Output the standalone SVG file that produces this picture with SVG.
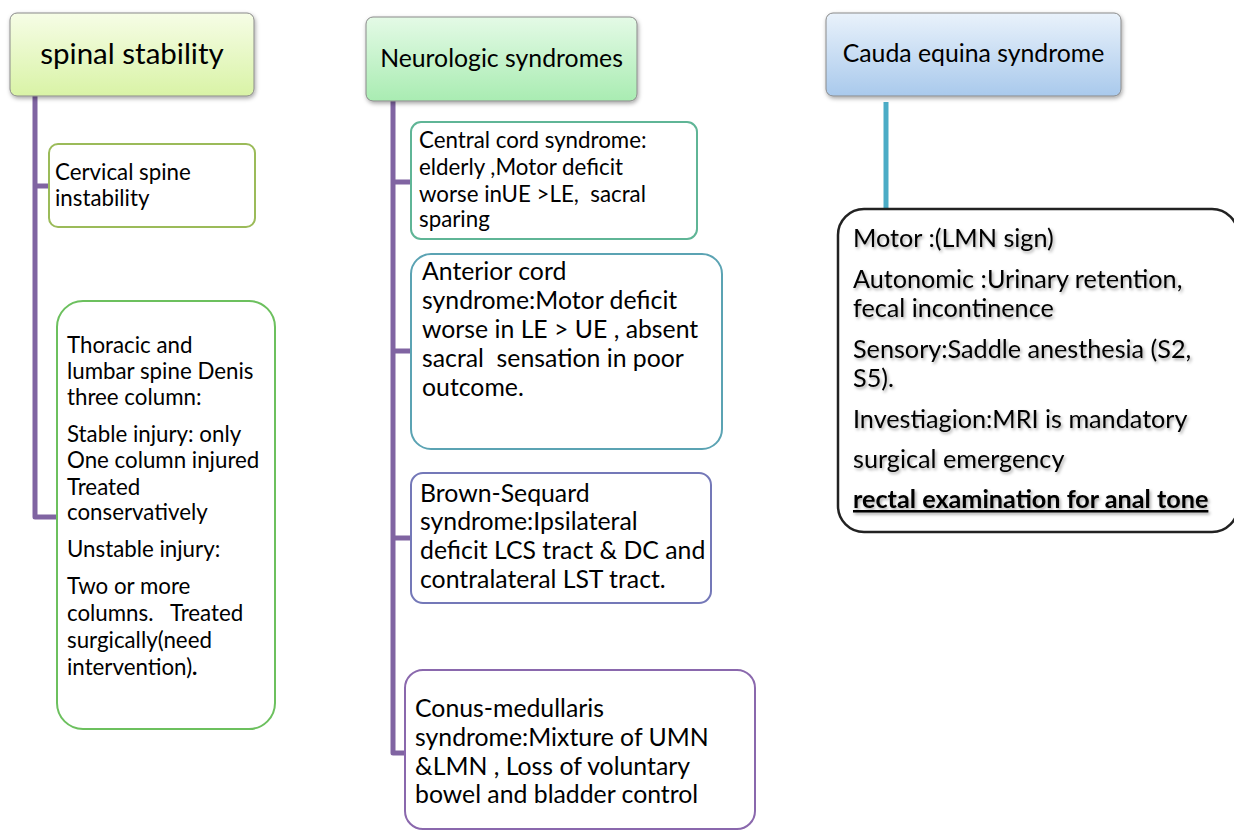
<svg xmlns="http://www.w3.org/2000/svg" width="1234" height="832" viewBox="0 0 1234 832">
<style>
text{font-family:Lato,"Open Sans","Liberation Sans",sans-serif;fill:#000;white-space:pre}
.h{text-anchor:middle}
.s{font-size:22.3px}
.m{font-size:24.8px}
.c{font-size:25.2px}
.box{fill:#fff;stroke-width:2}
.conn{fill:none;stroke:#8064a2;stroke-width:5;stroke-linejoin:round}
</style>
<defs>
<linearGradient id="gY" x1="0" y1="0" x2="0" y2="1"><stop offset="0" stop-color="#f6fde6"/><stop offset="1" stop-color="#d9f3a6"/></linearGradient>
<linearGradient id="gG" x1="0" y1="0" x2="0" y2="1"><stop offset="0" stop-color="#e4fae6"/><stop offset="1" stop-color="#a9ecb2"/></linearGradient>
<linearGradient id="gB" x1="0" y1="0" x2="0" y2="1"><stop offset="0" stop-color="#e9f2fb"/><stop offset="1" stop-color="#a9c9ec"/></linearGradient>
<filter id="sh" x="-10%" y="-10%" width="125%" height="130%"><feDropShadow dx="1" dy="2" stdDeviation="2" flood-color="#000" flood-opacity="0.35"/></filter>
<filter id="tsh" x="-5%" y="-20%" width="115%" height="160%"><feDropShadow dx="1.5" dy="2" stdDeviation="1.5" flood-color="#000" flood-opacity="0.35"/></filter>
</defs>
<g id="connectors">
<path class="conn" d="M35 96V517H57M35 186H49"/>
<path class="conn" d="M393 101V753H405M393 182H411M393 351H411M393 538H411"/>
<path d="M886 102V208" stroke="#4bacc6" stroke-width="5" fill="none"/>
</g>
<g id="spinal-stability">
<rect x="10" y="13" width="244" height="83" rx="7" fill="url(#gY)" stroke="#8a8a8a" stroke-width="1" filter="url(#sh)"/>
<text class="h" x="132" y="64" font-size="29.5">spinal stability</text>
</g>
<g id="cervical">
<rect class="box" x="49" y="144" width="206" height="83" rx="9" stroke="#9bbb59"/>
<text class="s" x="55" y="180">Cervical spine</text>
<text class="s" x="55" y="206">instability</text>
</g>
<g id="thoracic">
<rect class="box" x="57" y="301" width="218" height="428" rx="26" stroke="#6cc05e"/>
<text class="s" x="67" y="353">Thoracic and</text>
<text class="s" x="67" y="379">lumbar spine Denis</text>
<text class="s" x="67" y="405">three column:</text>
<text class="s" x="67" y="442">Stable injury: only</text>
<text class="s" x="67" y="468">One column injured</text>
<text class="s" x="67" y="495">Treated</text>
<text class="s" x="67" y="520">conservatively</text>
<text class="s" x="67" y="557">Unstable injury:</text>
<text class="s" x="67" y="594">Two or more</text>
<text class="s" x="67" y="621">columns.   Treated</text>
<text class="s" x="67" y="648">surgically(need</text>
<text class="s" x="67" y="675">intervention)<tspan font-weight="bold">.</tspan></text>
</g>
<g id="neurologic">
<rect x="366" y="17" width="271" height="84" rx="7" fill="url(#gG)" stroke="#8a8a8a" stroke-width="1" filter="url(#sh)"/>
<text class="h" x="501.5" y="67" font-size="24.8">Neurologic syndromes</text>
</g>
<g id="central-cord">
<rect class="box" x="411" y="122" width="286" height="117" rx="10" stroke="#5fb596"/>
<text class="s" x="419" y="148">Central cord syndrome:</text>
<text class="s" x="419" y="175">elderly ,Motor deficit</text>
<text class="s" x="419" y="202">worse inUE &gt;LE,  sacral</text>
<text class="s" x="419" y="227">sparing</text>
</g>
<g id="anterior-cord">
<rect class="box" x="411" y="254" width="311" height="195" rx="20" stroke="#5ba3b3"/>
<text class="m" x="422" y="280">Anterior cord</text>
<text class="m" x="422" y="309">syndrome:Motor deficit</text>
<text class="m" x="422" y="338">worse in LE &gt; UE , absent</text>
<text class="m" x="422" y="367">sacral  sensation in poor</text>
<text class="m" x="422" y="396">outcome.</text>
</g>
<g id="brown-sequard">
<rect class="box" x="411" y="473" width="300" height="130" rx="12" stroke="#7478b8"/>
<text class="m" x="420" y="502">Brown-Sequard</text>
<text class="m" x="420" y="530">syndrome:Ipsilateral</text>
<text class="m" x="420" y="559">deficit LCS tract &amp; DC and</text>
<text class="m" x="420" y="588">contralateral LST tract.</text>
</g>
<g id="conus-medullaris">
<rect class="box" x="405" y="670" width="350" height="159" rx="18" stroke="#8a68ad"/>
<text class="m" x="415" y="717">Conus-medullaris</text>
<text class="m" x="415" y="746">syndrome:Mixture of UMN</text>
<text class="m" x="415" y="775">&amp;LMN , Loss of voluntary</text>
<text class="m" x="415" y="803">bowel and bladder control</text>
</g>
<g id="cauda-equina">
<rect x="826" y="13" width="295" height="83" rx="7" fill="url(#gB)" stroke="#8a8a8a" stroke-width="1" filter="url(#sh)"/>
<text class="h" x="973.5" y="62" font-size="24.8">Cauda equina syndrome</text>
</g>
<g id="cauda-details">
<rect x="838" y="209" width="400" height="323" rx="26" fill="#fff" stroke="#222" stroke-width="2.5"/>
<g filter="url(#tsh)">
<text class="c" x="853" y="247">Motor :(LMN sign)</text>
<text class="c" x="853" y="288">Autonomic :Urinary retention,</text>
<text class="c" x="853" y="317">fecal incontinence</text>
<text class="c" x="853" y="358">Sensory:Saddle anesthesia (S2,</text>
<text class="c" x="853" y="387">S5).</text>
<text class="c" x="853" y="428">Investiagion:MRI is mandatory</text>
<text class="c" x="853" y="468">surgical emergency</text>
<text class="c" x="853" y="508" font-weight="bold" text-decoration="underline">rectal examination for anal tone</text>
</g>
</g>
</svg>
